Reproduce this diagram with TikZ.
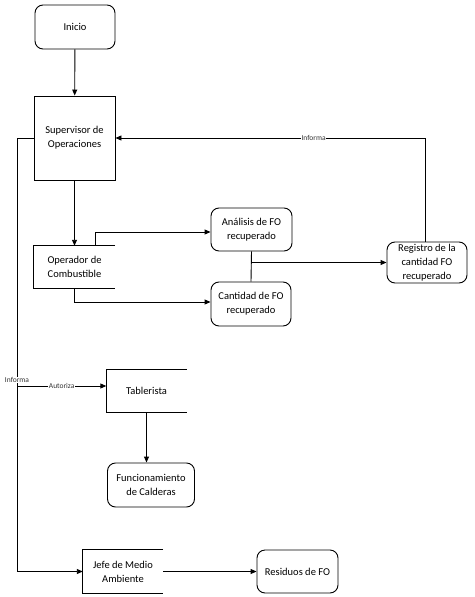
\documentclass[tikz,border=0pt]{standalone}
\usepackage{fontspec}
\setmainfont{Carlito}
\usetikzlibrary{arrows.meta}
\begin{document}
\begin{tikzpicture}[x=1pt,y=-1pt,
  every node/.style={font=\fontsize{10.5}{14}\selectfont, align=center, inner sep=1pt},
  roundbox/.style={draw, line width=0.9pt, rounded corners=8pt, minimum width=80pt, minimum height=44pt},
  plainbox/.style={draw, line width=0.9pt, minimum width=81pt, minimum height=84pt},
  openbox/.style={minimum width=80pt, minimum height=43pt},
  conn/.style={line width=0.9pt},
  arr/.style={conn, -{Triangle[width=5pt,length=6pt]}},
  lbl/.style={font=\fontsize{7.5}{9}\selectfont, fill=white, inner sep=0.5pt, text=black!80}
]
\useasboundingbox (0,0) rectangle (474,597);

\node[roundbox] (ini) at (75,27) {Inicio};
\node[plainbox] (sup) at (74.5,138) {Supervisor de\\Operaciones};
\node[openbox, minimum width=81pt, minimum height=42pt] (op) at (74.5,267) {Operador de\\Combustible};
\node[roundbox, minimum width=81pt, minimum height=43pt] (ana) at (251.5,229.5) {Análisis de FO\\recuperado};
\node[roundbox] (can) at (251,304) {Cantidad de FO\\recuperado};
\node[roundbox, minimum height=41pt] (reg) at (427,262.5) {Registro de la\\cantidad FO\\recuperado};
\node[openbox] (tab) at (146.5,391) {Tablerista};
\node[roundbox, minimum width=87pt] (fun) at (151,485) {Funcionamiento\\de Calderas};
\node[openbox] (jefe) at (123,571.5) {Jefe de Medio\\Ambiente};
\node[roundbox, minimum width=81pt, minimum height=43pt] (res) at (297.5,571.5) {Residuos de FO};

% open boxes
\draw[conn] (op.north east) -- (op.north west) -- (op.south west) -- (op.south east);
\draw[conn] (tab.north east) -- (tab.north west) -- (tab.south west) -- (tab.south east);
\draw[conn] (jefe.north east) -- (jefe.north west) -- (jefe.south west) -- (jefe.south east);

\coordinate (bend) at (17,0);
\coordinate (a0) at (17,386);
\coordinate (j) at (ana.south |- reg.west);

\draw[arr] (ini) -- (sup);
\draw[arr] (sup) -- (op);
\draw[arr] ([xshift=20.5pt]op.north) |- ([yshift=-2.5pt]ana.west);
\draw[arr] (op.south) |- ([yshift=2pt]can.west);
\draw[conn] (ana.south) -- (can.north);
\draw[arr] (j) -- (reg.west);
\draw[arr] ([xshift=-2pt]reg.north) |- node[lbl, pos=0.68] {Informa} (sup.east);
\draw[arr] (sup.west) -| (bend |- jefe.west) node[lbl, pos=0.779] {Informa} -- (jefe.west);
\draw[arr] (a0) -- (a0 -| tab.west) node[lbl, midway] {Autoriza};
\draw[arr] (tab.south) -- (tab.south |- fun.north);
\draw[arr] (jefe.east) -- (res.west);
\end{tikzpicture}
\end{document}
